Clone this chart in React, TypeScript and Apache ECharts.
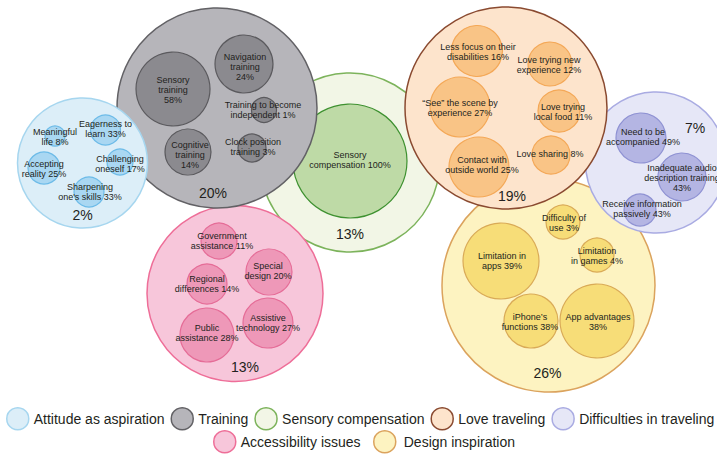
import React, { useEffect, useRef } from "react";
import * as echarts from "echarts";

// ---------- DATA ----------
const CATEGORIES = [
  "Attitude as aspiration",
  "Training",
  "Sensory compensation",
  "Love traveling",
  "Difficulties in traveling",
  "Accessibility issues",
  "Design inspiration",
];
const SHARES = [2, 20, 13, 19, 7, 13, 26];

// sub-themes ("{v}" is replaced by the value)
const ATTITUDE_LABELS = ["Meaningful\nlife {v}%", "Eagerness to\nlearn {v}%", "Accepting\nreality {v}%", "Challenging\noneself {v}%", "Sharpening\none's skills {v}%"];
const ATTITUDE_VALUES = [8, 33, 25, 17, 33];

const TRAINING_LABELS = ["Sensory\ntraining\n{v}%", "Navigation\ntraining\n{v}%", "Training to become\nindependent {v}%", "Cognitive\ntraining\n{v}%", "Clock position\ntraining {v}%"];
const TRAINING_VALUES = [58, 24, 1, 14, 3];

const SENSORY_LABELS = ["Sensory\ncompensation {v}%"];
const SENSORY_VALUES = [100];

const TRAVEL_LABELS = ["Less focus on their\ndisabilities {v}%", "Love trying new\nexperience {v}%", "\u201cSee\u201d the scene by\nexperience {v}%", "Love trying\nlocal food {v}%", "Contact with\noutside world {v}%", "Love sharing {v}%"];
const TRAVEL_VALUES = [16, 12, 27, 11, 25, 8];

const DIFFICULTY_LABELS = ["Need to be\naccompanied {v}%", "Inadequate audio\ndescription training\n{v}%", "Receive information\npassively {v}%"];
const DIFFICULTY_VALUES = [49, 43, 43];

const ACCESS_LABELS = ["Government\nassistance {v}%", "Special\ndesign {v}%", "Regional\ndifferences {v}%", "Assistive\ntechnology {v}%", "Public\nassistance {v}%"];
const ACCESS_VALUES = [11, 20, 14, 27, 28];

const DESIGN_LABELS = ["Difficulty of\nuse {v}%", "Limitation\nin games {v}%", "Limitation in\napps {v}%", "iPhone\u2019s\nfunctions {v}%", "App advantages\n{v}%"];
const DESIGN_VALUES = [3, 4, 39, 38, 38];

const SUB_LABELS = [ATTITUDE_LABELS, TRAINING_LABELS, SENSORY_LABELS, TRAVEL_LABELS, DIFFICULTY_LABELS, ACCESS_LABELS, DESIGN_LABELS];
const SUB_VALUES = [ATTITUDE_VALUES, TRAINING_VALUES, SENSORY_VALUES, TRAVEL_VALUES, DIFFICULTY_VALUES, ACCESS_VALUES, DESIGN_VALUES];

// ---------- LAYOUT (packing positions in px coordinates: x, y, radius) ----------
const OUTER_LAYOUT = [
  [82.5, 163, 65],
  [217, 108, 100],
  [350, 162.5, 89.5],
  [506, 108, 101],
  [656, 162.5, 70.5],
  [235, 293.5, 88],
  [548.5, 285.5, 106.5],
];
const SHARE_LABEL_OFFSET = [
  [0, 52],
  [-4, 85],
  [0, 71],
  [6, 88],
  [39, -35],
  [10, 73],
  [-1, 87],
];
const INNER_LAYOUT = [
  [[55, 136, 10], [105.5, 130, 15], [44, 168, 16], [120, 162, 13], [89, 192, 15]],
  [[173, 89, 37], [244, 64, 29], [264, 110, 12.5], [188, 152, 23], [252, 148, 14]],
  [[350, 161, 57]],
  [[477, 51, 25.5], [550, 64, 22], [460, 107, 30], [559, 111, 21], [479, 167, 30], [551, 155, 19]],
  [[641, 138, 25], [682, 177, 24], [640, 210, 16]],
  [[219, 241, 18], [269, 272, 23], [207, 284, 20], [268, 323, 25], [207, 335, 27]],
  [[563, 222, 17], [597, 255, 17], [501, 261, 38], [531, 321, 27], [597, 321, 37]],
];
const INNER_LABEL_OFFSET = [
  [[0, 1], [0, -1], [0, 1], [0, 2], [1, 0]],
  [[0, 1], [1, 3], [-1, 0], [2, 3], [1, -1]],
  [[0, -1]],
  [[1, 1], [-1, 1], [0, 1], [4, 1], [3, -2], [-1, -1]],
  [[2, -1], [0, 1], [2, -1]],
  [[3, 0], [-1, -1], [0, 0], [0, 0], [0, -2]],
  [[1, 1], [0, 1], [1, 0], [-1, 1], [1, 1]],
];

// ---------- STYLES ----------
const OUTER_FILL = ["#dceef8", "#b6b5ba", "#f2f6e6", "#fde4cc", "#e6e7f7", "#f7c6da", "#fdf3c1"];
const OUTER_BORDER = ["#a6d6ef", "#626165", "#7cb35b", "#8a4a30", "#a9abe2", "#ee6e98", "#dba35d"];
const INNER_FILL = ["#a9d7f2", "#8b8a8f", "#bedaa6", "#f9c486", "#b4b5e3", "#ee98b8", "#f7dd78"];
const INNER_BORDER = ["#6cbbe8", "#5b5a5e", "#3e9130", "#f4a857", "#8f92d3", "#e56c97", "#d9aa57"];
// bottom-to-top drawing order of the category circles
const DRAW_ORDER = [6, 4, 2, 3, 5, 1, 0];

const FONT = "'Liberation Sans', Arial, Helvetica, sans-serif";
const TEXT_COLOR = "#231f20";

export default function App() {
  const ref = useRef<HTMLDivElement>(null);

  useEffect(() => {
    document.body.style.margin = "0";
    if (!ref.current) return;
    const chart = echarts.init(ref.current, null, { renderer: "svg" });

    const series = DRAW_ORDER.map((ci) => {
      const [ox, oy, orad] = OUTER_LAYOUT[ci];
      const data: any[] = [
        {
          name: CATEGORIES[ci],
          value: [ox, oy],
          symbolSize: orad * 2,
          itemStyle: { color: OUTER_FILL[ci], borderColor: OUTER_BORDER[ci], borderWidth: 1.5 },
          label: {
            show: true,
            position: "inside",
            offset: SHARE_LABEL_OFFSET[ci],
            formatter: SHARES[ci] + "%",
            fontSize: 14,
            fontFamily: FONT,
            color: TEXT_COLOR,
          },
        },
      ];
      SUB_LABELS[ci].forEach((tpl, k) => {
        const [x, y, r] = INNER_LAYOUT[ci][k];
        const text = tpl.replace("{v}", String(SUB_VALUES[ci][k]));
        data.push({
          name: text,
          value: [x, y],
          symbolSize: r * 2,
          itemStyle: { color: INNER_FILL[ci], borderColor: INNER_BORDER[ci], borderWidth: 1.2 },
          label: {
            show: true,
            position: "inside",
            offset: INNER_LABEL_OFFSET[ci][k],
            formatter: text,
            fontSize: 9,
            lineHeight: 10,
            fontFamily: FONT,
            color: TEXT_COLOR,
          },
        });
      });
      return {
        type: "scatter",
        name: CATEGORIES[ci],
        symbol: "circle",
        itemStyle: { color: OUTER_FILL[ci], borderColor: OUTER_BORDER[ci], borderWidth: 1.5, opacity: 1 },
        emphasis: { disabled: true },
        data,
      };
    });

    const legendItem = (ci: number) => ({
      name: CATEGORIES[ci],
      itemStyle: { color: OUTER_FILL[ci], borderColor: OUTER_BORDER[ci], borderWidth: 1.5 },
    });
    const legendBase = {
      orient: "horizontal",
      icon: "circle",
      itemWidth: 22,
      itemHeight: 22,
      itemGap: 6,
      padding: 0,
      selectedMode: false,
      textStyle: { fontSize: 14, fontFamily: FONT, color: TEXT_COLOR },
    };

    chart.setOption({
      animation: false,
      backgroundColor: "#ffffff",
      grid: { left: 0, right: 0, top: 0, bottom: 0 },
      xAxis: { type: "value", min: 0, max: 717, show: false },
      yAxis: { type: "value", min: 0, max: 454, inverse: true, show: false },
      legend: [
        { ...legendBase, left: 6, top: 407, width: 760, data: [0, 1, 2, 3, 4].map(legendItem) },
        { ...legendBase, left: 213, top: 430, width: 200, data: [5].map(legendItem) },
        {
          ...legendBase,
          left: 373,
          top: 430,
          width: 200,
          textStyle: { ...legendBase.textStyle, padding: [0, 0, 0, 3] },
          data: [6].map(legendItem),
        },
      ],
      tooltip: { show: false },
      series,
    });

    return () => {
      chart.dispose();
    };
  }, []);

  return <div ref={ref} style={{ width: 717, height: 454, background: "#fff" }} />;
}
